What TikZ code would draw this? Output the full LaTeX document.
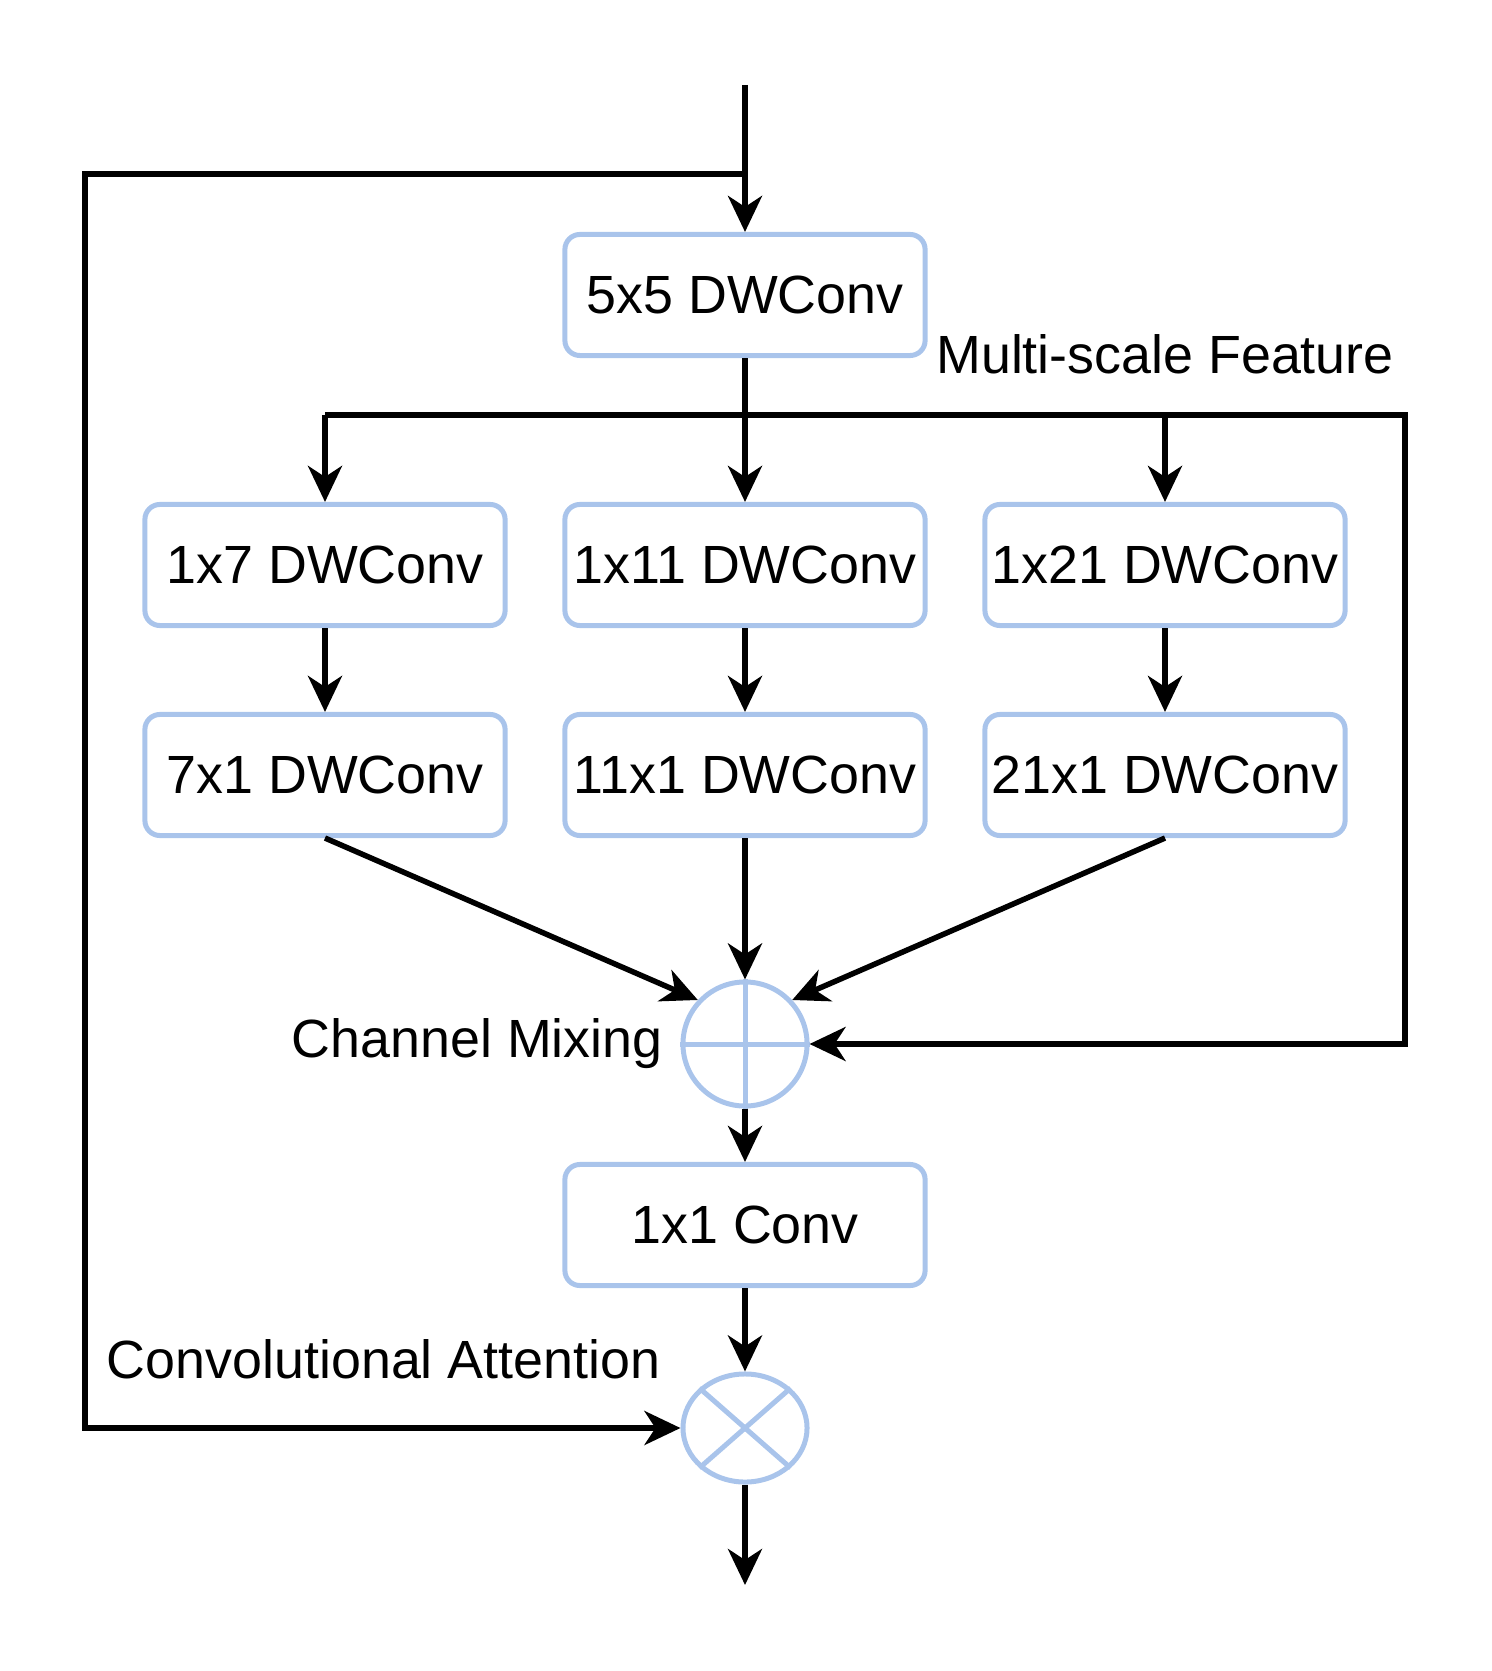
\documentclass[tikz,border=0pt]{standalone}
\usepackage{fontspec}
\setmainfont{Liberation Sans}
\usetikzlibrary{arrows.meta, positioning, shapes.geometric}
\definecolor{boxblue}{RGB}{169,196,235}

\begin{document}
\begin{tikzpicture}[
  x=0.01cm, y=-0.01cm,
  font=\fontsize{15.3}{18}\selectfont,
  conv/.style={rectangle, draw=boxblue, line width=0.05cm, rounded corners=0.15cm,
               minimum width=3.6cm, minimum height=1.21cm, inner xsep=1pt,
               align=center, fill=white},
  opnode/.style={draw=boxblue, line width=0.05cm, inner sep=0pt},
  arr/.style={-{Stealth[length=0.36cm, width=0.34cm, inset=0.11cm]}, line width=0.055cm},
  lbl/.style={inner sep=0pt},
]
\useasboundingbox (0,0) rectangle (1491,1671);

% Blocks
\node[conv] (conv5) at (745,295) {5x5 DWConv};
\node[conv] (h7)  at (325,565) {1x7 DWConv};
\node[conv] (h11) at (745,565) {1x11 DWConv};
\node[conv] (h21) at (1165,565) {1x21 DWConv};
\node[conv] (v7)  at (325,775) {7x1 DWConv};
\node[conv] (v11) at (745,775) {11x1 DWConv};
\node[conv] (v21) at (1165,775) {21x1 DWConv};
\node[opnode, circle, minimum size=1.24cm] (plus) at (745,1044) {};
\node[conv] (conv1) at (745,1225) {1x1 Conv};
\node[opnode, ellipse, minimum width=1.24cm, minimum height=1.08cm] (mul) at (745,1428) {};
\draw[boxblue, line width=0.05cm] (plus.north) -- (plus.south) (plus.west) -- (plus.east);
\draw[boxblue, line width=0.05cm] (mul.north east) -- (mul.south west) (mul.north west) -- (mul.south east);

% Points
\coordinate (in) at (745,85);
\coordinate (tap) at (745,174);
\coordinate (skip) at (85,1428);
\coordinate (bl) at (325,415);
\coordinate (br) at (1405,415);
\coordinate (out) at (745,1585);

% Labels
\node[lbl] (msf) at (1165,354) {Multi-scale Feature};
\node[lbl, left=0.17cm of plus] (mixlbl) {Channel Mixing};
\node[lbl, anchor=east] (attlbl) at (661,1359) {Convolutional Attention};

% Connectors
\draw[arr] (in) -- (conv5);
\draw[arr] (tap) -| (skip) -- (mul.west);
\draw[arr] (conv5) -- (h11);
\draw[arr] (bl) -- (br) |- (plus.east);
\draw[arr] (bl) -- (h7);
\draw[arr] (h21.north |- bl) -- (h21);
\foreach \k in {7,11,21}
  \draw[arr] (h\k) -- (v\k);
\draw[arr] (v7.south) -- (plus.137);
\draw[arr] (v11) -- (plus);
\draw[arr] (v21.south) -- (plus.43);
\draw[arr] (plus) -- (conv1);
\draw[arr] (conv1) -- (mul);
\draw[arr] (mul) -- (out);
\end{tikzpicture}
\end{document}
